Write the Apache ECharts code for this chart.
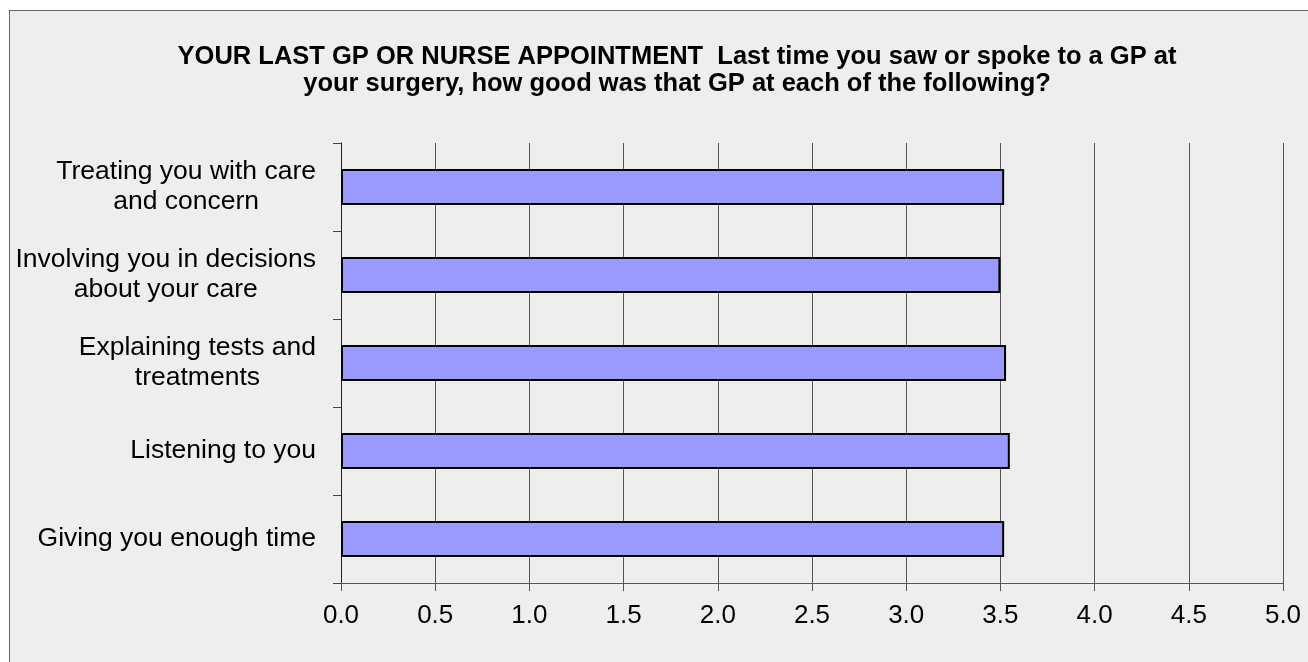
<!DOCTYPE html>
<html>
<head>
<meta charset="utf-8">
<script src="https://cdn.jsdelivr.net/npm/echarts@6/dist/echarts.min.js"></script>
<style>
    html, body { margin: 0; padding: 0; background: #ffffff; }
    #frame { position: absolute; left: 9px; top: 10px; width: 1400px; height: 700px; background: #eeeeee; border: 1px solid #666666; }
    #main { position: absolute; left: 0; top: 0; width: 1308px; height: 662px; }
</style>
</head>
<body>
<div id="frame"></div>
<div id="main"></div>
<script>
// 问题选项（从上到下）
var categories = [
    'Treating you with care\nand concern',
    'Involving you in decisions\nabout your care',
    'Explaining tests and\ntreatments',
    'Listening to you',
    'Giving you enough time'
];
// 平均得分
var scores = [3.52, 3.50, 3.53, 3.55, 3.52];
var titleText = 'YOUR LAST GP OR NURSE APPOINTMENT  Last time you saw or spoke to a GP at\nyour surgery, how good was that GP at each of the following?';

(function () {
    var myChart = echarts.init(document.getElementById('main'));
    var font = '"Liberation Sans", Arial, sans-serif';
    var option = {
        backgroundColor: 'transparent',
        animation: false,
        title: {
            text: titleText,
            left: 672,
            top: 38,
            textAlign: 'center',
            textStyle: {
                color: '#000',
                fontFamily: font,
                fontWeight: 'bold',
                fontSize: 25.5,
                lineHeight: 27
            }
        },
        grid: {
            left: 341,
            right: 25,
            top: 143,
            bottom: 79,
            containLabel: false
        },
        xAxis: {
            type: 'value',
            min: 0,
            max: 5,
            interval: 0.5,
            axisLine: { show: true, lineStyle: { color: '#555', width: 1 } },
            axisTick: { show: true, length: 8, lineStyle: { color: '#555' } },
            axisLabel: {
                margin: 20,
                color: '#000',
                fontFamily: font,
                fontSize: 26,
                formatter: function (v) { return v.toFixed(1); }
            },
            splitLine: { show: true, lineStyle: { color: '#555', width: 1 } }
        },
        yAxis: {
            type: 'category',
            inverse: true,
            data: categories,
            axisLine: { show: true, lineStyle: { color: '#222', width: 1 } },
            axisTick: { show: true, length: 8, alignWithLabel: false, lineStyle: { color: '#444' } },
            axisLabel: {
                margin: 25,
                align: 'right',
                formatter: function (v) {
                    return v.split('\n').map(function (s) { return '{c|' + s + '}'; }).join('\n');
                },
                rich: {
                    c: {
                        align: 'center',
                        color: '#000',
                        fontFamily: font,
                        fontSize: 26.5,
                        lineHeight: 30
                    }
                }
            },
            splitLine: { show: false }
        },
        series: [
            {
                type: 'bar',
                data: scores,
                barWidth: 36,
                itemStyle: {
                    color: '#9999ff',
                    borderColor: '#000',
                    borderWidth: 2
                }
            }
        ]
    };
    myChart.setOption(option);

    window.addEventListener('resize', function () {
        myChart.resize();
    });
})();
</script>
</body>
</html>
